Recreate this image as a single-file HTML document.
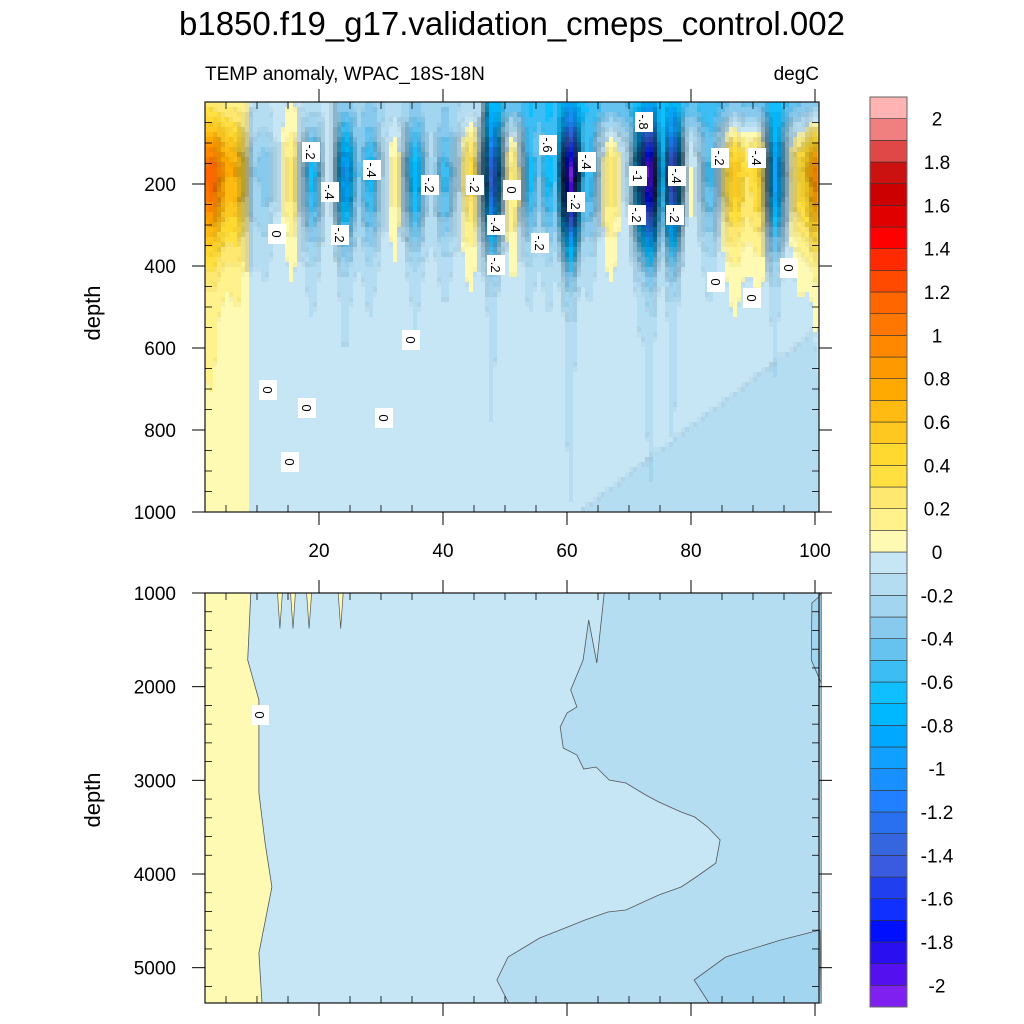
<!DOCTYPE html>
<html><head><meta charset="utf-8"><style>
html,body{margin:0;padding:0;background:#fff}
svg{display:block;font-family:"Liberation Sans",sans-serif}
</style></head><body>
<svg id="chart" width="1024" height="1024" viewBox="0 0 1024 1024">
<text x="512" y="35" text-anchor="middle" font-size="33">b1850.f19_g17.validation_cmeps_control.002</text>
<text x="205" y="80" font-size="19">TEMP anomaly, WPAC_18S-18N</text>
<text x="819" y="80" font-size="19" text-anchor="end">degC</text>
<g id="top"></g>
<g id="bot"></g>
<g id="cbar"></g>
<g id="axes"></g>
<text transform="translate(100,313) rotate(-90)" text-anchor="middle" font-size="22">depth</text>
<text transform="translate(100,800) rotate(-90)" text-anchor="middle" font-size="22">depth</text>
</svg>
<script>
// ---- colour levels (bottom to top) ----
const levels=[];for(let i=0;i<=40;i++)levels.push(+(-2+i*0.1).toFixed(1));
const colors=["#8020F0","#5510F0","#2A10F0","#0010FF","#1030FF","#2040F0","#3A5AE0","#3566E0","#2870F0","#2080FF","#1890FF","#10A0FF","#00A8FF","#00B8FF","#10BFFF","#3CBEF5","#66C3F0","#88CAEE","#A2D5EF","#B5DDF2","#C6E6F6","#FFFAB3","#FFF28C","#FFE870","#FFE040","#FFD830","#FFC820","#FFBB11","#FFAA00","#FF9900","#FF8800","#FF7700","#FF6600","#FF4A00","#FF2A00","#FF0000","#E00000","#CC0000","#CC1111","#E04848","#F08080","#FFB3B3"];
const cbarLabels=["2","1.8","1.6","1.4","1.2","1","0.8","0.6","0.4","0.2","0","-0.2","-0.4","-0.6","-0.8","-1","-1.2","-1.4","-1.6","-1.8","-2"];
// ---- upper panel stripe data (longitude index, anomaly at ~180 m, width) ----
const stripeX=[2.4,6.8,8.9,11.3,15.6,18.9,21.8,24.2,28.2,32.3,35.5,40.3,44.4,47.9,51.3,54,57,60.5,63.7,67,71.8,73.4,77,80,83,87,91,93.5,97.6,100.5];
const stripeAmp=[1.1,0.5,-0.3,-0.3,0.3,-0.6,0.2,-0.9,-0.6,0.2,-0.7,-0.5,0.4,-1.3,0.3,-0.6,-0.6,-2.0,-0.5,0.3,-0.7,-1.8,-1.5,0.1,-0.5,0.6,0.5,-1.0,0.4,1.0];
const stripeW=[2.2,1.3,1,1,1,1.2,0.8,1.2,1.2,0.8,1.2,1.2,1,1,1,1,1,1.1,1,1,1,1,1,1,1.2,1.5,1.3,1.1,1.3,1.3];
// ---- lower panel region boundaries (lon index, depth m) ----
const yellowLon=[9.0,8.5,10.3,10.3,11.3,12.4,10.3,10.8];
const yellowDep=[1000,1715,2142,3135,3669,4139,4844,5377];
const darkLon=[66.0,64.8,63.5,62.6,60.6,61.6,60.0,58.9,59.4,61.6,62.7,64.7,66.8,69.5,72.7,74.8,78.4,80.6,82.7,84.7,84.0,80.6,78.4,74.8,69.5,66.6,62.9,59.7,55.6,50.5,48.7,50.6];
const darkDep=[1000,1747,1288,1715,2036,2217,2281,2431,2655,2730,2879,2858,2996,3028,3157,3231,3338,3391,3498,3637,3883,4043,4139,4224,4384,4406,4491,4576,4683,4886,5132,5377];
const darkerLon=[82.9,80.5,85.6,94.5,100.8];
const darkerDep=[5377,5132,4886,4705,4598];
const spikeLon=[13.7,15.8,18.4,23.5];
const xTicks=[20,40,60,80,100];
const topYTicks=[200,400,600,800,1000];
const botYTicks=[1000,2000,3000,4000,5000];

const NS="http://www.w3.org/2000/svg";
function mk(tag,attrs,parent){const e=document.createElementNS(NS,tag);for(const k in attrs)e.setAttribute(k,attrs[k]);parent.appendChild(e);return e;}
const X0=205,X1=819;
const xs=v=>195+v*6.2;
const ysTop=d=>102+d*0.41;
const ysBot=d=>593+(d-1000)*0.09367;
const YT0=102,YT1=512,YB0=593,YB1=1003;
function levelIndex(v){if(v<-2)return 0;let k=Math.floor((v+2)/0.1+1e-9)+1;return Math.max(0,Math.min(41,k));}
function hex2rgb(h){return [parseInt(h.substr(1,2),16),parseInt(h.substr(3,2),16),parseInt(h.substr(5,2),16)];}

// ---- field for upper panel ----
function field(x,d){
  let base=-0.05;
  if(x<9)base=0.05;
  if(d>1000-(x-62)*11.6 && x>60)base=-0.15;
  if(x>47)base+=-0.45*Math.exp(-Math.pow(d/80,2));
  else if(x>22)base+=-0.15*Math.exp(-Math.pow(d/80,2));
  let v=base;
  for(let i=0;i<stripeX.length;i++){
    const dx=(x-stripeX[i])/stripeW[i];
    const g=Math.exp(-dx*dx/2);
    const gt=Math.exp(-dx*dx*1.5);
    if(d<180)v+=stripeAmp[i]*g*Math.exp(-Math.pow((d-180)/95,2)/2);
    else v+=stripeAmp[i]*(g*0.85*Math.exp(-Math.pow((d-180)/120,2)/2)+gt*0.15*Math.exp(-(d-180)/450));
  }
  return v;
}
const topG=document.getElementById('top');
const cw=4,ch=5;
const nx=Math.ceil((X1-X0)/cw),ny=Math.ceil((YT1-YT0)/ch);
const K=[];
for(let j=0;j<ny;j++){K.push([]);const d=(j*ch+ch/2)/0.41;
  for(let i=0;i<nx;i++){const x=(X0+i*cw+cw/2-195)/6.2;K[j].push(levelIndex(field(x,d)));}}
for(let j=0;j<ny;j++){
  let runStart=0;
  const fills=[];
  for(let i=0;i<nx;i++){
    const a=K[j][Math.max(0,i-1)],b=K[j][Math.min(nx-1,i+1)];
    const u=K[Math.max(0,j-1)][i],w=K[Math.min(ny-1,j+1)][i];
    const diff=Math.abs(a-b)+0.5*Math.abs(u-w);
    const dk=Math.min(0.8,0.07*Math.max(0,diff-1));
    const c=hex2rgb(colors[K[j][i]]).map(q=>Math.round(q*(1-dk)));
    fills.push(`rgb(${c[0]},${c[1]},${c[2]})`);
  }
  for(let i=0;i<=nx;i++){
    if(i===nx||fills[i]!==fills[runStart]){
      const x0=X0+runStart*cw,x1=Math.min(X1,X0+i*cw);
      const r=mk('rect',{x:x0,y:YT0+j*ch,width:x1-x0+0.5,height:Math.min(ch,YT1-YT0-j*ch)+0.5,fill:fills[runStart]},topG);
      
      
      runStart=i;
    }
  }
}
// contour labels (decorative)
const labs=[[311,152,"-.2"],[330,192,"-.4"],[372,170,"-.4"],[340,235,"-.2"],[430,185,"-.2"],[475,185,"-.2"],[512,190,"0"],[496,225,"-.4"],[496,265,"-.2"],[540,243,"-.2"],[548,145,"-.6"],[587,162,"-.4"],[576,202,"-.2"],[644,122,"-.8"],[638,176,"-1"],[677,176,"-.4"],[675,215,"-.2"],[637,215,"-.2"],[720,158,"-.2"],[757,158,"-.4"],[277,234,"0"],[716,282,"0"],[752,298,"0"],[789,268,"0"],[411,340,"0"],[268,390,"0"],[307,408,"0"],[384,418,"0"],[290,462,"0"]];
labs.forEach(l=>{
  const g=mk('g',{},topG);
  
  
  mk('rect',{x:l[0]-9,y:l[1]-10,width:18,height:20,fill:'#fff'},g);
  const t=mk('text',{x:l[0],y:l[1]+5,'font-size':13,'text-anchor':'middle',transform:`rotate(90 ${l[0]} ${l[1]})`},g);
  t.textContent=l[2];
});

// ---- lower panel ----
const botG=document.getElementById('bot');
function pts(lon,dep){return lon.map((v,i)=>xs(v).toFixed(1)+','+ysBot(dep[i]).toFixed(1)).join(' ');}
let r=mk('rect',{x:X0,y:YB0,width:X1-X0,height:YB1-YB0,fill:colors[20]},botG);

let p=mk('polygon',{points:pts(darkLon.concat([101,101]),darkDep.concat([5377,1000])),fill:colors[19],stroke:'#555','stroke-width':0.8},botG);

p=mk('polygon',{points:pts(darkerLon.concat([101]),darkerDep.concat([5377])),fill:colors[18],stroke:'#555','stroke-width':0.8},botG);

p=mk('polygon',{points:pts([101,100.6,99.5,99.4,101],[1000,1043,1107,1715,1961]),fill:colors[18],stroke:'#555','stroke-width':0.8},botG);

p=mk('polygon',{points:pts(yellowLon.concat([1.6,1.6]),yellowDep.concat([5377,1000])),fill:colors[21],stroke:'#555','stroke-width':0.8},botG);

spikeLon.forEach(s=>{
  const q=mk('polygon',{points:pts([s-0.4,s,s+0.4],[1000,1380,1000]),fill:colors[21],stroke:'#555','stroke-width':0.7},botG);
  
});
let lg=mk('g',{},botG);
mk('rect',{x:252,y:705,width:17,height:20,fill:'#fff'},lg);
let lt=mk('text',{x:260,y:720,'font-size':13,'text-anchor':'middle',transform:'rotate(90 260 715)'},lg);lt.textContent='0';

// ---- axes ----
const ax=document.getElementById('axes');
function line(x1,y1,x2,y2,w){return mk('line',{x1,y1,x2,y2,stroke:'#000','stroke-width':w||1},ax);}
[[YT0,YT1],[YB0,YB1]].forEach(([a,b])=>{mk('rect',{x:X0,y:a,width:X1-X0,height:b-a,fill:'none',stroke:'#222','stroke-width':1.3},ax);});
for(let v=5;v<=100;v+=5){
  const x=xs(v);const major=v%20===0;
  if(major){line(x,YT1,x,YT1+13);line(x,YT0,x,YT0-13);line(x,YB0,x,YB0-13);line(x,YB1,x,YB1+13);}
  else{line(x,YT1,x,YT1-7,0.8);line(x,YT0,x,YT0+7,0.8);line(x,YB0,x,YB0+7,0.8);line(x,YB1,x,YB1-7,0.8);}
}
xTicks.forEach(v=>{const t=mk('text',{x:xs(v),y:557,'font-size':19,'text-anchor':'middle'},ax);t.textContent=v;
  });
for(let d=50;d<=1000;d+=50){const y=ysTop(d);
  if(d%200===0){line(X0,y,X0-13,y);line(X1,y,X1+13,y);}else{line(X0,y,X0+7,y,0.8);line(X1,y,X1-7,y,0.8);}}
topYTicks.forEach(d=>{const t=mk('text',{x:176,y:ysTop(d)+7,'font-size':19,'text-anchor':'end'},ax);t.textContent=d;
  });
for(let d=1200;d<=5300;d+=200){const y=ysBot(d);
  if(d%1000===0){line(X0,y,X0-13,y);line(X1,y,X1+13,y);}else{line(X0,y,X0+7,y,0.8);line(X1,y,X1-7,y,0.8);}}
line(X0,YB0,X0-13,YB0);line(X1,YB0,X1+13,YB0);line(X0,YT1,X0-13,YT1);line(X1,YT1,X1+13,YT1);
botYTicks.forEach(d=>{const t=mk('text',{x:176,y:ysBot(d)+7,'font-size':19,'text-anchor':'end'},ax);t.textContent=d;
  });

// ---- colorbar ----
const cb=document.getElementById('cbar');
const CB0=97,CB1=1007,bh=(CB1-CB0)/colors.length;
colors.forEach((c,i)=>{const y=CB1-(i+1)*bh;
  const b=mk('rect',{x:870,y:y,width:37,height:bh,fill:c,stroke:'#333','stroke-width':0.6},cb);
  });
mk('rect',{x:870,y:CB0,width:37,height:CB1-CB0,fill:'none',stroke:'#666','stroke-width':1},cb);
cbarLabels.forEach((s,i)=>{const v=parseFloat(s);const k=levelIndex(v+0.0001);const y=CB1-k*bh;
  const t=mk('text',{x:937,y:y+7,'font-size':19,'text-anchor':'middle'},cb);t.textContent=s;
  });
</script>
</body></html>
